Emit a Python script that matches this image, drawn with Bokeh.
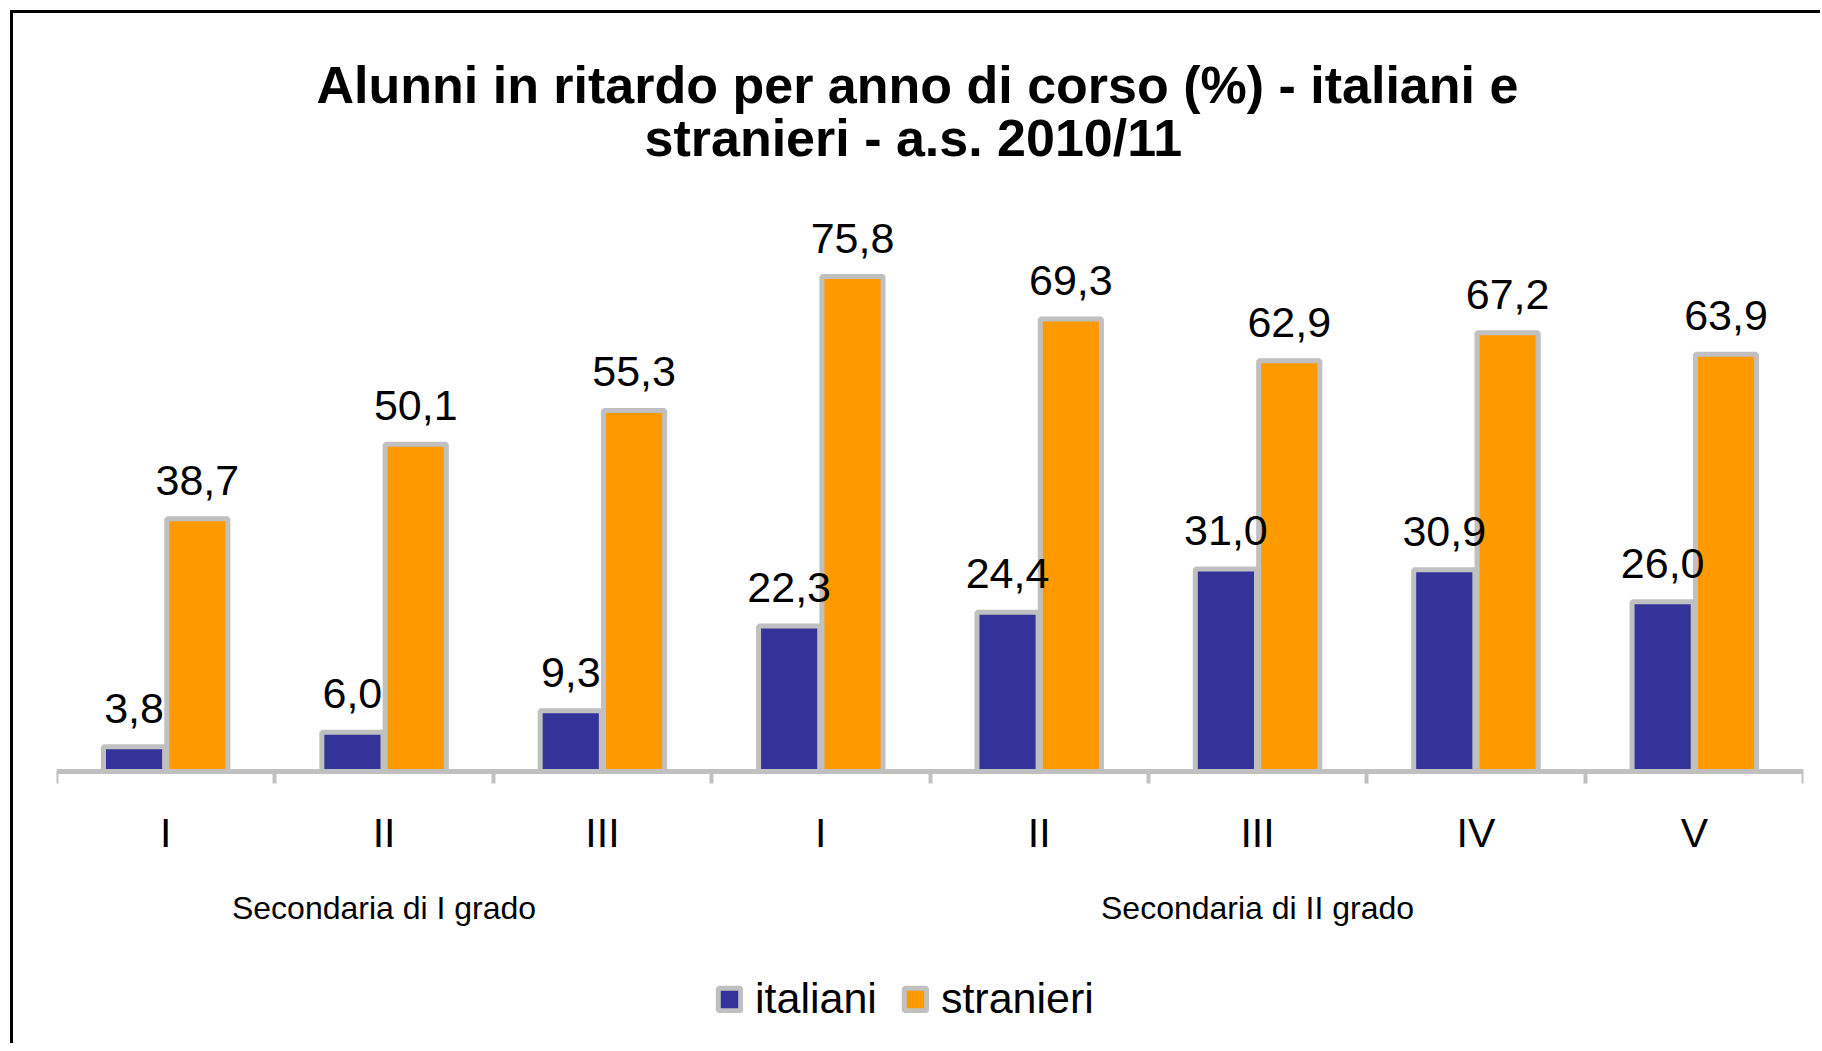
from bokeh.plotting import figure
from bokeh.models import (Range1d, LinearAxis, FixedTicker, ColumnDataSource, LabelSet,
                          Legend, LegendItem, Title)
from bokeh.core.properties import value
from bokeh.embed import file_html
from bokeh.resources import INLINE

# ---- data ----
levels = ["I", "II", "III", "I", "II", "III", "IV", "V"]
grades = ["Secondaria di I grado"] * 3 + ["Secondaria di II grado"] * 5
italiani = [3.8, 6.0, 9.3, 22.3, 24.4, 31.0, 30.9, 26.0]
stranieri = [38.7, 50.1, 55.3, 75.8, 69.3, 62.9, 67.2, 63.9]
series_names = ["italiani", "stranieri"]
title_lines = ["Alunni in ritardo per anno di corso (%) - italiani e",
               "stranieri - a.s. 2010/11"]

BLUE = "#333399"
ORANGE = "#FF9900"
GRAY = "#C0C0C0"
FONT = "Liberation Sans"

n = len(levels)
centers = [i + 0.5 for i in range(n)]
off = 0.145
bw = 0.28

def fmt(v):
    return f"{v:.1f}".replace(".", ",")

src_it = ColumnDataSource(dict(x=[c - off for c in centers], top=italiani,
                               lab=[fmt(v) for v in italiani]))
src_st = ColumnDataSource(dict(x=[c + off for c in centers], top=stranieri,
                               lab=[fmt(v) for v in stranieri]))

# layout in pixels: frame top 190, baseline 771, frame bottom 1043
PX_PER_UNIT = 6.53
FRAME_W = 1747
FRAME_H = 1043 - 190
ymax = (771 - 190) / PX_PER_UNIT
ymin = -(1043 - 771) / PX_PER_UNIT

p = figure(frame_width=FRAME_W, frame_height=FRAME_H,
           x_range=Range1d(0, n), y_range=Range1d(ymin, ymax),
           output_backend="svg", toolbar_location=None,
           x_axis_type=None, y_axis_type=None,
           min_border_left=56, min_border_right=17,
           min_border_top=190, min_border_bottom=0)
p.outline_line_color = None
p.background_fill_color = None
p.border_fill_color = None
p.xgrid.visible = False
p.ygrid.visible = False
p.styles = {"box-shadow": "inset 10px 10px 0 0 white, inset 13px 13px 0 0 black"}

r_it = p.vbar(x="x", top="top", bottom=0, width=bw, source=src_it,
              fill_color=BLUE, line_color=GRAY, line_width=5)
r_st = p.vbar(x="x", top="top", bottom=0, width=bw, source=src_st,
              fill_color=ORANGE, line_color=GRAY, line_width=5)

for s in (src_it, src_st):
    p.add_layout(LabelSet(x="x", y="top", text="lab", source=s, y_offset=24,
                          text_align="center", text_baseline="alphabetic",
                          text_font=value(FONT), text_font_size=value("43px"),
                          text_color="black"))

# category axis with boundary ticks, drawn at y = 0
ax1 = LinearAxis(ticker=FixedTicker(ticks=centers, minor_ticks=list(range(n + 1))),
                 fixed_location=0)
ax1.major_label_overrides = {c: l for c, l in zip(centers, levels)}
ax1.axis_line_color = GRAY
ax1.axis_line_width = 5
ax1.major_tick_line_color = None
ax1.major_tick_out = 12
ax1.major_tick_in = 0
ax1.minor_tick_line_color = GRAY
ax1.minor_tick_line_width = 4
ax1.minor_tick_out = 12
ax1.minor_tick_in = 0
ax1.major_label_standoff = 26
ax1.major_label_text_font = FONT
ax1.major_label_text_font_size = "41px"
ax1.major_label_text_color = "black"
p.add_layout(ax1, "below")

# group labels
group_names = []
for g in grades:
    if g not in group_names:
        group_names.append(g)
group_centers = []
for g in group_names:
    idx = [i for i, gg in enumerate(grades) if gg == g]
    group_centers.append((min(idx) + max(idx) + 1) / 2)
ax2 = LinearAxis(ticker=FixedTicker(ticks=group_centers, minor_ticks=[]),
                 fixed_location=0)
ax2.major_label_overrides = {c: g for c, g in zip(group_centers, group_names)}
ax2.axis_line_color = None
ax2.major_tick_line_color = None
ax2.minor_tick_line_color = None
ax2.major_tick_out = 0
ax2.major_tick_in = 0
ax2.minor_tick_out = 0
ax2.minor_tick_in = 0
ax2.major_label_standoff = 118
ax2.major_label_text_font = FONT
ax2.major_label_text_font_size = "32px"
ax2.major_label_text_color = "black"
p.add_layout(ax2, "below")

legend = Legend(items=[LegendItem(label=series_names[0], renderers=[r_it]),
                       LegendItem(label=series_names[1], renderers=[r_st])],
                orientation="horizontal", location=(659, 20))
legend.label_text_font = FONT
legend.label_text_font_size = "43px"
legend.label_text_color = "black"
legend.glyph_width = 28
legend.glyph_height = 28
legend.label_standoff = 12
legend.spacing = 24
legend.padding = 0
legend.margin = 0
legend.border_line_color = None
legend.background_fill_alpha = 0
p.add_layout(legend, "center")

t2 = Title(text=title_lines[1], align="left", offset=588, text_font=FONT,
           text_font_size="52px", text_font_style="bold", text_color="black",
           standoff=47)
t1 = Title(text=title_lines[0], align="left", offset=260, text_font=FONT,
           text_font_size="52px", text_font_style="bold", text_color="black",
           standoff=-60)
p.add_layout(t2, "above")
p.add_layout(t1, "above")

open("out.html", "w").write(file_html(p, INLINE))
